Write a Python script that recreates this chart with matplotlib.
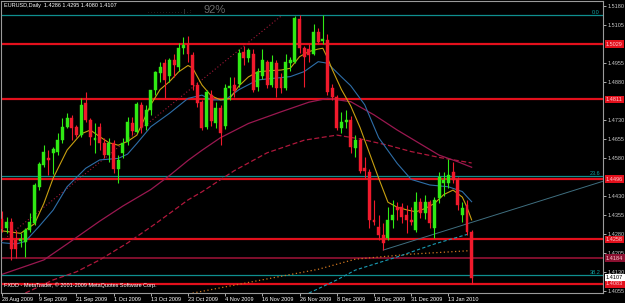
import matplotlib
matplotlib.use("Agg")
import matplotlib.pyplot as plt
import matplotlib.transforms as mtrans
from matplotlib import font_manager
import numpy as np

# ---------------- data ----------------
opens = [1.4338,1.4302,1.4328,1.4256,1.4250,1.4249,1.4295,1.4321,1.4466,1.4552,
         1.4578,1.4598,1.4605,1.4651,1.4703,1.4736,1.4703,1.4670,1.4796,1.4730,
         1.4651,1.4703,1.4637,1.4590,1.4640,1.4537,1.4600,1.4644,1.4716,1.4684,
         1.4789,1.4705,1.4769,1.4848,1.4915,1.4953,1.4905,1.4965,1.4940,1.5013,
         1.5030,1.4986,1.4868,1.4802,1.4703,1.4830,1.4716,1.4776,1.4705,1.4855,
         1.4868,1.4870,1.4998,1.4975,1.4990,1.4860,1.4905,1.4960,1.4868,1.4954,
         1.4895,1.4855,1.4955,1.4960,1.5130,1.5013,1.5010,1.4990,1.5079,1.5040,
         1.5046,1.4855,1.4822,1.4697,1.4720,1.4730,1.4618,1.4650,1.4540,1.4526,
         1.4336,1.4306,1.4275,1.4262,1.4334,1.4387,1.4385,1.4354,1.4334,1.4295,
         1.4407,1.4361,1.4407,1.4302,1.4420,1.4479,1.4479,1.4526,1.4495,1.4354,
         1.4394,1.4286]
highs = [1.4372,1.4348,1.4341,1.4295,1.4282,1.4302,1.4361,1.4480,1.4565,1.4631,
         1.4611,1.4625,1.4677,1.4736,1.4756,1.4749,1.4710,1.4815,1.4842,1.4736,
         1.4716,1.4717,1.4660,1.4660,1.4650,1.4590,1.4660,1.4740,1.4740,1.4800,
         1.4800,1.4790,1.4850,1.4925,1.4960,1.4970,1.4975,1.4990,1.5035,1.5058,
         1.5062,1.5000,1.4880,1.4810,1.4850,1.4850,1.4800,1.4790,1.4870,1.4900,
         1.4900,1.5010,1.5020,1.5015,1.5010,1.4935,1.5010,1.4968,1.4985,1.4965,
         1.4915,1.4990,1.4980,1.5140,1.5145,1.5020,1.5030,1.5110,1.5095,1.5145,
         1.5070,1.4870,1.4830,1.4760,1.4770,1.4745,1.4670,1.4660,1.4585,1.4535,
         1.4414,1.4354,1.4321,1.4387,1.4414,1.4407,1.4400,1.4394,1.4387,1.4447,
         1.4420,1.4435,1.4414,1.4427,1.4526,1.4525,1.4574,1.4565,1.4506,1.4407,
         1.4414,1.4295]
lows = [1.4288,1.4282,1.4177,1.4183,1.4230,1.4190,1.4288,1.4315,1.4453,1.4545,
        1.4512,1.4515,1.4592,1.4637,1.4697,1.4651,1.4664,1.4664,1.4723,1.4631,
        1.4598,1.4611,1.4580,1.4565,1.4520,1.4480,1.4580,1.4630,1.4670,1.4677,
        1.4677,1.4690,1.4750,1.4830,1.4880,1.4815,1.4880,1.4900,1.4925,1.4990,
        1.4960,1.4850,1.4780,1.4690,1.4695,1.4705,1.4700,1.4630,1.4695,1.4810,
        1.4820,1.4860,1.4945,1.4960,1.4840,1.4845,1.4890,1.4855,1.4860,1.4822,
        1.4835,1.4850,1.4925,1.4955,1.4995,1.4861,1.4960,1.4985,1.5030,1.5030,
        1.4828,1.4810,1.4690,1.4680,1.4700,1.4600,1.4585,1.4520,1.4500,1.4302,
        1.4315,1.4256,1.4216,1.4256,1.4302,1.4334,1.4321,1.4282,1.4315,1.4288,
        1.4341,1.4340,1.4302,1.4262,1.4400,1.4430,1.4460,1.4479,1.4374,1.4328,
        1.4275,1.4080]
closes = [1.4298,1.4328,1.4220,1.4220,1.4258,1.4295,1.4328,1.4473,1.4556,1.4605,
          1.4570,1.4616,1.4651,1.4703,1.4736,1.4697,1.4670,1.4789,1.4730,1.4664,
          1.4657,1.4637,1.4590,1.4640,1.4535,1.4572,1.4640,1.4723,1.4685,1.4792,
          1.4704,1.4770,1.4848,1.4921,1.4940,1.4888,1.4965,1.4945,1.5013,1.5026,
          1.4990,1.4868,1.4796,1.4697,1.4841,1.4725,1.4776,1.4677,1.4855,1.4865,
          1.4845,1.4995,1.4975,1.5005,1.4850,1.4920,1.4965,1.4868,1.4960,1.4855,
          1.4858,1.4960,1.4967,1.5131,1.5015,1.4980,1.4985,1.5079,1.5039,1.5050,
          1.4841,1.4822,1.4697,1.4723,1.4730,1.4624,1.4652,1.4530,1.4528,1.4334,
          1.4328,1.4275,1.4242,1.4334,1.4354,1.4374,1.4348,1.4334,1.4328,1.4407,
          1.4361,1.4407,1.4321,1.4414,1.4506,1.4493,1.4512,1.4493,1.4394,1.4381,
          1.4288,1.4107]

date_tick_bars = [0, 8, 16, 24, 32, 40, 48, 56, 64, 72, 80, 88, 96]
date_tick_labels = ["28 Aug 2009", "9 Sep 2009", "21 Sep 2009", "1 Oct 2009",
                    "13 Oct 2009", "23 Oct 2009", "4 Nov 2009", "16 Nov 2009",
                    "26 Nov 2009", "8 Dec 2009", "18 Dec 2009", "31 Dec 2009",
                    "13 Jan 2010"]
price_ticks = [1.5180, 1.5105, 1.4955, 1.4880, 1.4730, 1.4655, 1.4580,
               1.4430, 1.4355, 1.4280, 1.4205, 1.4130, 1.4055]

# indicator lines (bar index, price)
ma_fast_x = [0, 4, 7, 9, 11, 14, 17, 19, 21, 23, 25, 27, 29, 32, 34, 36, 38, 40, 41, 43,
             45, 47, 49, 51, 53, 55, 58, 60, 62, 64, 66, 68, 69, 70, 71, 73, 75, 77, 79,
             81, 83, 85, 87, 89, 91, 93, 95, 97, 99, 100, 101]
ma_fast_y = [1.4292, 1.4282, 1.4320, 1.4400, 1.4500, 1.4611, 1.4675, 1.4690, 1.4664,
             1.4640, 1.4630, 1.4645, 1.4670, 1.4790, 1.4850, 1.4881, 1.4920, 1.4945,
             1.4935, 1.4868, 1.4825, 1.4809, 1.4815, 1.4865, 1.4900, 1.4920, 1.4925,
             1.4927, 1.4934, 1.4980, 1.5000, 1.5010, 1.5013, 1.4975, 1.4930, 1.4850,
             1.4785, 1.4700, 1.4600, 1.4500, 1.4405, 1.4385, 1.4375, 1.4367, 1.4380,
             1.4400, 1.4435, 1.4453, 1.4425, 1.4385, 1.4335]
ma_mid_x = [0, 3, 5, 8, 11, 14, 18, 21, 25, 27, 29, 32, 36, 40, 43, 45, 48, 51, 55, 62,
            65, 68, 70, 73, 75, 78, 81, 85, 88, 92, 96, 99, 101]
ma_mid_y = [1.4245, 1.4240, 1.4250, 1.4310, 1.4374, 1.4466, 1.4539, 1.4572, 1.4578,
            1.4595, 1.4637, 1.4703, 1.4756, 1.4815, 1.4828, 1.4809, 1.4809, 1.4850,
            1.4888, 1.4901, 1.4921, 1.4960, 1.4954, 1.4900, 1.4865, 1.4790, 1.4660,
            1.4558, 1.4495, 1.4473, 1.4466, 1.4447, 1.4407]
ma_slow_x = [0, 9, 14, 21, 26, 32, 36, 40, 43, 47, 53, 60, 66, 70, 75, 80, 85, 90, 94,
             98, 101]
ma_slow_y = [1.4120, 1.4177, 1.4240, 1.4330, 1.4390, 1.4455, 1.4510, 1.4570, 1.4610,
             1.4660, 1.4716, 1.4762, 1.4800, 1.4815, 1.4802, 1.4750, 1.4690, 1.4635,
             1.4591, 1.4565, 1.4543]
ma_slow2_x = [5, 11, 16, 21, 27, 33, 40, 43, 50, 57, 65, 72, 77, 83, 88, 94, 101]
ma_slow2_y = [1.4046, 1.4098, 1.4130, 1.4177, 1.4244, 1.4320, 1.4414, 1.4446, 1.4530,
              1.4600, 1.4650, 1.4670, 1.4655, 1.4630, 1.4605, 1.4582, 1.4560]
ma_long_x = [41, 55, 68, 76, 88, 101]
ma_long_y = [1.4046, 1.4095, 1.4140, 1.4180, 1.4200, 1.4214]
ma_long2_x = [66, 72, 76, 85, 93, 101]
ma_long2_y = [1.4046, 1.4098, 1.4137, 1.4189, 1.4240, 1.4283]

trend_up_x = [0, 60]
trend_up_y = [1.4252, 1.5140]
trend_low_x = [82, 129.3]
trend_low_y = [1.4216, 1.4488]

hlines_red = [1.5029, 1.4811, 1.4496, 1.4258, 1.4083]
hline_dark = 1.4184
fib_levels = [1.5144, 1.4510, 1.4118]
fib_names = ["0.0", "23.6", "38.2"]
current_price = 1.4107

# ---------------- figure ----------------
W, H = 625, 303
fig = plt.figure(figsize=(W / 100, H / 100), dpi=100, facecolor="black")
ax = fig.add_axes([1 / W, 1 - 293 / H, 602 / W, 292 / H], facecolor="black")

available = {f.name for f in font_manager.fontManager.ttflist}
if "Liberation Sans Narrow" in available:
    FONT = ["Liberation Sans Narrow", "DejaVu Sans"]
    FS = 4.7
else:
    FONT = ["Liberation Sans", "DejaVu Sans"]
    FS = 4.0

n = len(closes)
idx = np.arange(n)
o = np.array(opens); c = np.array(closes); h = np.array(highs); l = np.array(lows)
bull = c >= o
GREEN = "#30ea14"
RED = "#f01a2c"

# fib lines and horizontal lines
for lv in fib_levels:
    ax.axhline(lv, color="#0f8f8f", lw=0.9, zorder=1)
ax.axhline(hline_dark, color="#8a1030", lw=1.3, zorder=1)
for lv in hlines_red:
    ax.axhline(lv, color="#e3101c", lw=1.6, zorder=1)

# indicator lines
ax.plot(ma_long_x, ma_long_y, color="#d07820", lw=0.9, ls=(0, (1, 2)), zorder=2)
ax.plot(ma_long2_x, ma_long2_y, color="#1a9cb4", lw=0.8, ls=(0, (3, 2)), zorder=2)
ax.plot(ma_slow2_x, ma_slow2_y, color="#b0183c", lw=0.9, ls=(0, (4, 2)), zorder=2)
ax.plot(ma_slow_x, ma_slow_y, color="#9a1850", lw=0.9, zorder=2)
ax.plot(ma_mid_x, ma_mid_y, color="#2e6ea8", lw=0.8, zorder=3)
ax.plot(ma_fast_x, ma_fast_y, color="#c8a010", lw=0.8, zorder=3)
ax.plot(trend_up_x, trend_up_y, color="#a01838", lw=0.8, ls=(0, (1, 2)), zorder=2)
ax.plot(trend_low_x, trend_low_y, color="#3f6f80", lw=0.7, zorder=2)

# candles
cols = np.where(bull, GREEN, RED)
ax.vlines(idx, l, h, colors=cols, lw=0.8, zorder=4)
body_bottom = np.minimum(o, c)
body_h = np.maximum(np.abs(c - o), 0.00012)
ax.bar(idx, body_h, bottom=body_bottom, width=0.64, color=cols, edgecolor=cols,
       linewidth=0.3, zorder=5)

ax.set_xlim(-0.215, 129.25)
ax.set_ylim(1.40464, 1.51997)

# axes styling
for s in ax.spines.values():
    s.set_color("#9a9a9a")
    s.set_linewidth(0.8)
ax.yaxis.tick_right()
ax.set_yticks(price_ticks)
ax.set_yticklabels([f"{v:.4f}" for v in price_ticks])
ax.set_xticks(date_tick_bars)
ax.set_xticklabels(date_tick_labels)
ax.tick_params(axis="y", colors="#c8c8c8", length=2, width=0.6, pad=1.5, labelsize=FS)
ax.tick_params(axis="x", colors="#c8c8c8", length=2, width=0.6, pad=1, labelsize=FS)
for t in ax.get_xticklabels():
    t.set_horizontalalignment("left")
    t.set_color("white")
    t.set_family(FONT)
for t in ax.get_yticklabels():
    t.set_family(FONT)

# price labels on axis
tr = mtrans.blended_transform_factory(ax.transAxes, ax.transData)
LX = 1.005
for lv in hlines_red:
    ax.text(LX, lv, f"{lv:.4f}", transform=tr, fontsize=FS, family=FONT,
            color="#ffc8d0", va="center", ha="left", clip_on=False, zorder=10,
            bbox=dict(facecolor="#e3101c", edgecolor="none", pad=0.9))
ax.text(LX, hline_dark, f"{hline_dark:.4f}", transform=tr, fontsize=FS, family=FONT,
        color="#ffc8d0", va="center", ha="left", clip_on=False, zorder=10,
        bbox=dict(facecolor="#8a1030", edgecolor="none", pad=0.9))
ax.text(LX, current_price, f"{current_price:.4f}", transform=tr, fontsize=FS,
        family=FONT, color="black", va="center", ha="left", clip_on=False, zorder=11,
        bbox=dict(facecolor="white", edgecolor="none", pad=0.9))
for lv, name in zip(fib_levels, fib_names):
    ax.text(0.995, lv, name, transform=tr, fontsize=FS, family=FONT, color="#10a0a0",
            va="bottom", ha="right", zorder=10)

# texts
ax.text(0.005, 0.992, "EURUSD,Daily  1.4286 1.4295 1.4080 1.4107", transform=ax.transAxes,
        fontsize=FS, family=FONT, color="white", va="top", ha="left", zorder=10)
ax.text(0.005, 0.026, "FXDD - MetaTrader, \u00a9 2001-2009 MetaQuotes Software Corp.",
        transform=ax.transAxes, fontsize=FS, family=FONT, color="white", va="center",
        ha="left", zorder=10)
ax.text(0.244, 0.965, ". . . . . . . . . . . . | . :", transform=ax.transAxes, fontsize=4,
        family=FONT, color="#606060", va="center", ha="left", zorder=10)
ax.text(0.336, 0.968, "92%", transform=ax.transAxes, fontsize=8, family=FONT,
        color="#6a6a6a", va="center", ha="left", zorder=10)

fig.savefig("out.png", dpi=100, facecolor="black")
